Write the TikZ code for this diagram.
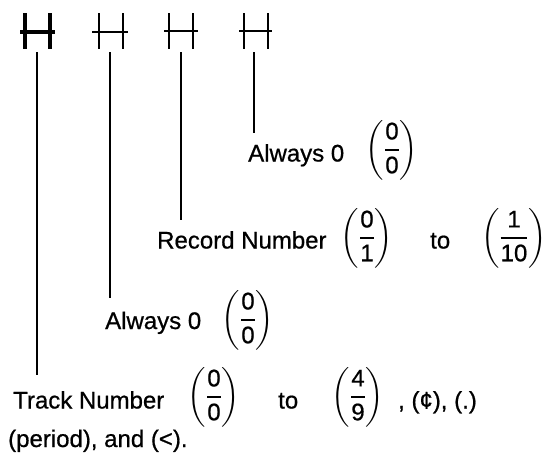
\documentclass[tikz,border=0pt]{standalone}
\usepackage{amsmath}
\usepackage{fontspec}
\setmainfont{Liberation Sans}[FakeBold=0.7]
\newcommand{\myfrac}[2]{$\displaystyle\left(\genfrac{}{}{1.8pt}{0}{\mbox{#1}}{\mbox{#2}}\right)$}
\begin{document}
\begin{tikzpicture}[x=1pt,y=-1pt,
  lbl/.style={font=\fontsize{24}{28}\selectfont, inner sep=0pt, anchor=base west},
  fracbox/.style={font=\fontsize{24}{28}\selectfont, inner sep=0pt, anchor=center},
  hthick/.style={line width=3.4pt},
  hthin/.style={line width=2.2pt},
  conn/.style={line width=2.4pt}]
\useasboundingbox (0,0) rectangle (547,453);
% H glyphs
\draw[hthick] (25,13)--(25,49) (50,13)--(50,49) (20,32)--(55,32);
\draw[hthin] (99,13)--(99,49) (123,13)--(123,49) (92,32)--(128,32);
\draw[hthin] (169,13)--(169,49) (193,13)--(193,49) (164,31)--(198,31);
\draw[hthin] (244,13)--(244,49) (268,13)--(268,49) (239,31)--(272,31);
% connector ends
\coordinate (h1) at (37,52);  \coordinate (e1) at (37,375);
\coordinate (h2) at (110,52); \coordinate (e2) at (110,298);
\coordinate (h3) at (181,52); \coordinate (e3) at (181,220);
\coordinate (h4) at (254,52); \coordinate (e4) at (254,133);
\draw[conn] (h1)--(e1);
\draw[conn] (h2)--(e2);
\draw[conn] (h3)--(e3);
\draw[conn] (h4)--(e4);
% top row
\node[lbl] (a1) at (248,161.5) {Always 0};
\node[fracbox] (a1f) at (392,150) {\myfrac{0}{0}};
% record row
\node[lbl] (rec) at (157,248.5) {Record Number};
\node[fracbox] (recf1) at (367,238) {\myfrac{0}{1}};
\node[lbl] (recto) at (430,248.5) {to};
\node[fracbox] (recf2) at (514,238) {\myfrac{1}{10}};
% middle row
\node[lbl] (a2) at (105,329) {Always 0};
\node[fracbox] (a2f) at (248,320) {\myfrac{0}{0}};
% track row
\node[lbl] (trk) at (13,408.5) {Track Number};
\node[fracbox] (trkf1) at (214,397) {\myfrac{0}{0}};
\node[lbl] (trkto) at (278,408.5) {to};
\node[fracbox] (trkf2) at (358,397) {\myfrac{4}{9}};
\node[lbl] (trkx) at (398,408.5) {, (¢), (.)};
\node[lbl] (trk2) at (8,447) {(period), and (<).};
\end{tikzpicture}
\end{document}
